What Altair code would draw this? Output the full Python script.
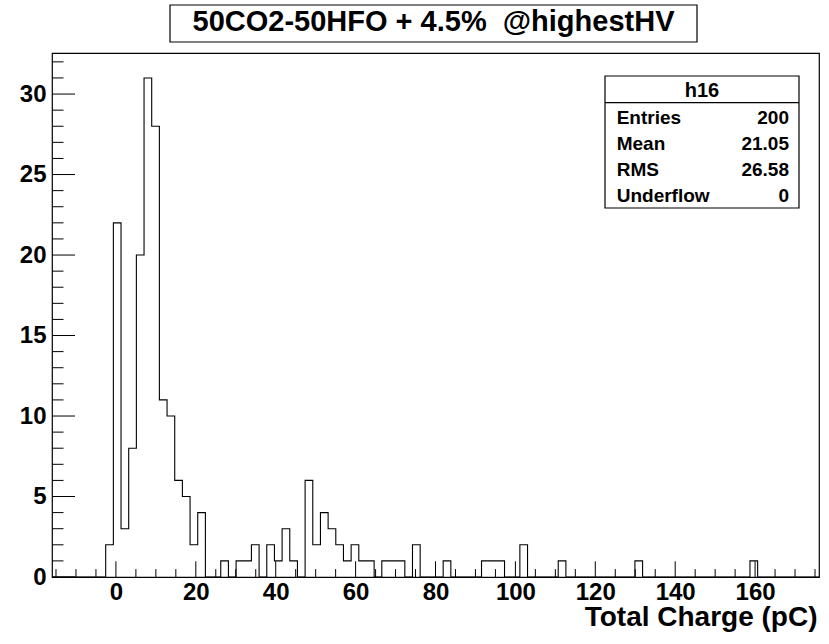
import altair as alt
import pandas as pd

# ---------------- data ----------------
title_text = "50CO2-50HFO + 4.5%\u00a0 @highestHV"
x_title = "Total Charge (pC)"
hist_name = "h16"
stat_labels = ["Entries", "Mean", "RMS", "Underflow"]
stat_values = ["200", "21.05", "26.58", "0"]

x_min, x_max, n_bins = -16.0, 176.0, 100
y_max = 32.55

counts = [
    0, 0, 0, 0, 0, 0, 0, 2, 22, 3,
    8, 20, 31, 28, 11, 10, 6, 5, 2, 4,
    0, 0, 1, 0, 1, 1, 2, 0, 2, 1,
    3, 1, 0, 6, 2, 4, 3, 2, 1, 2,
    1, 1, 0, 1, 1, 1, 0, 2, 0, 0,
    0, 1, 0, 0, 0, 0, 1, 1, 1, 0,
    0, 2, 0, 0, 0, 0, 1, 0, 0, 0,
    0, 0, 0, 0, 0, 0, 1, 0, 0, 0,
    0, 0, 0, 0, 0, 0, 0, 0, 0, 0,
    0, 1, 0, 0, 0, 0, 0, 0, 0, 0,
]

x_major = [0, 20, 40, 60, 80, 100, 120, 140, 160]
x_minor = [v for v in range(-15, 176, 5) if v % 20 != 0]
y_major = [0, 5, 10, 15, 20, 25, 30]
y_minor = [v for v in range(1, 33) if v % 5 != 0]

# ---------------- layout ----------------
W, H = 767, 524
FONT = "Liberation Sans"

bin_w = (x_max - x_min) / n_bins
edges = [x_min + bin_w * i for i in range(n_bins + 1)]
hist_df = pd.DataFrame({"x": edges, "count": counts + [0]})

xs = alt.Scale(domain=[x_min, x_max], nice=False, zero=False)
ys = alt.Scale(domain=[0, y_max], nice=False, zero=False)

x_axis = alt.Axis(
    values=x_major, title=x_title, ticks=False, domain=False, grid=False,
    labelFont=FONT, labelFontSize=24, labelFontWeight="bold", labelColor="black",
    labelPadding=3, labelFlush=False, labelOverlap=False,
    titleFont=FONT, titleFontSize=28, titleFontWeight="bold", titleColor="black",
    titleX=765, titleY=48, titleAlign="right", titleBaseline="alphabetic",
)
y_axis = alt.Axis(
    values=y_major, title=None, ticks=False, domain=False, grid=False,
    labelFont=FONT, labelFontSize=24, labelFontWeight="bold", labelColor="black",
    labelPadding=6, labelFlush=False, labelOverlap=False,
)

hist = alt.Chart(hist_df).mark_line(
    interpolate="step-after", color="black", strokeWidth=1.1
).encode(
    x=alt.X("x:Q", scale=xs, axis=x_axis),
    y=alt.Y("count:Q", scale=ys, axis=y_axis),
)

def xticks(vals, length):
    return alt.Chart(pd.DataFrame({"x": vals})).mark_rule(color="black", strokeWidth=1).encode(
        x=alt.X("x:Q", scale=xs, axis=x_axis),
        y=alt.value(H), y2=alt.value(H - length),
    )

def yticks(vals, length):
    return alt.Chart(pd.DataFrame({"y": vals})).mark_rule(color="black", strokeWidth=1).encode(
        y=alt.Y("y:Q", scale=ys, axis=y_axis),
        x=alt.value(0), x2=alt.value(length),
    )

layers = [
    hist,
    xticks(x_major, 15.7), xticks(x_minor, 7.9),
    yticks(y_major, 23), yticks(y_minor, 11.5),
]

# title box
title_df = pd.DataFrame({"t": [title_text]})
layers.append(
    alt.Chart(title_df).mark_rect(fill="white", stroke="black", strokeWidth=1.2).encode(
        x=alt.value(118), x2=alt.value(645), y=alt.value(-48), y2=alt.value(-11)
    )
)
layers.append(
    alt.Chart(title_df).mark_text(
        font=FONT, fontSize=29, fontWeight="bold", color="black",
        align="center", baseline="alphabetic",
    ).encode(x=alt.value(381.5), y=alt.value(-22), text="t:N")
)

# stats box
bx0, bx1, by0, by1 = 553, 747, 23, 155
name_df = pd.DataFrame({"t": [hist_name]})
layers.append(
    alt.Chart(name_df).mark_rect(fill="white", stroke="black", strokeWidth=1.2).encode(
        x=alt.value(bx0), x2=alt.value(bx1), y=alt.value(by0), y2=alt.value(by1)
    )
)
layers.append(
    alt.Chart(name_df).mark_rule(color="black", strokeWidth=1.2).encode(
        x=alt.value(bx0), x2=alt.value(bx1), y=alt.value(49.7)
    )
)
layers.append(
    alt.Chart(name_df).mark_text(
        font=FONT, fontSize=20, fontWeight="bold", color="black",
        align="center", baseline="alphabetic",
    ).encode(x=alt.value((bx0 + bx1) / 2), y=alt.value(43.7), text="t:N")
)
for i, (lab, val) in enumerate(zip(stat_labels, stat_values)):
    row_df = pd.DataFrame({"label": [lab], "value": [val]})
    yb = 71.3 + 25.8 * i
    layers.append(
        alt.Chart(row_df).mark_text(
            font=FONT, fontSize=19, fontWeight="bold", color="black",
            align="left", baseline="alphabetic",
        ).encode(x=alt.value(564.7), y=alt.value(yb), text="label:N")
    )
    layers.append(
        alt.Chart(row_df).mark_text(
            font=FONT, fontSize=19, fontWeight="bold", color="black",
            align="right", baseline="alphabetic",
        ).encode(x=alt.value(737), y=alt.value(yb), text="value:N")
    )

chart = alt.layer(*layers).properties(
    width=W, height=H,
    autosize=alt.AutoSizeParams(type="none"),
    padding={"left": 52, "top": 53, "right": 10, "bottom": 67},
    background="white",
).configure_view(stroke="black", strokeWidth=1.2)

chart.save("out.html", embed_options={"renderer": "svg", "actions": False})
